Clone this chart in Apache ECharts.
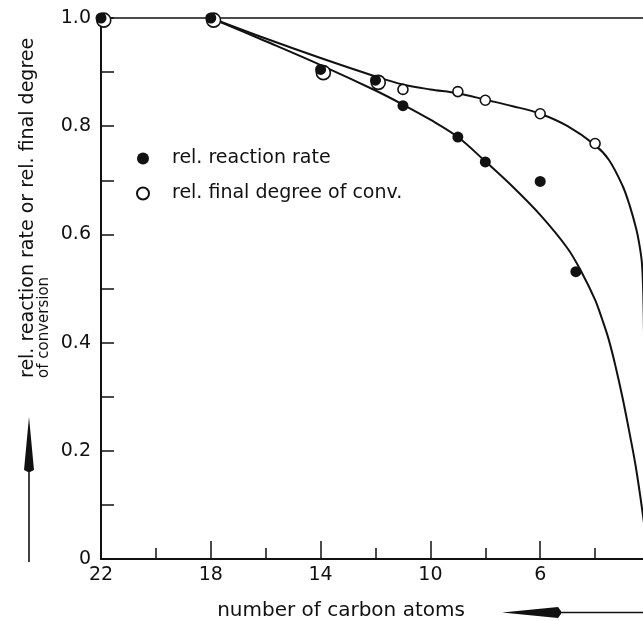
<!DOCTYPE html>
<html>
<head>
<meta charset="utf-8">
<script src="https://cdn.jsdelivr.net/npm/echarts@6/dist/echarts.min.js"></script>
<style>
html,body{margin:0;padding:0;background:#fff;}
#chart{width:643px;height:621px;}
</style>
</head>
<body>
<div id="chart"></div>
<script>
// Measured points: rel. reaction rate (filled circles)
const rateCarbon = [22, 18, 14, 12, 11, 9, 8, 6, 4.7];
const rateValues = [1.0, 1.0, 0.905, 0.885, 0.838, 0.78, 0.734, 0.698, 0.531];
// Measured points: rel. final degree of conversion (open circles)
const convCarbon = [21.9, 17.9, 13.9, 11.9, 11, 9, 8, 6, 4];
const convValues = [0.996, 0.996, 0.899, 0.881, 0.868, 0.864, 0.848, 0.823, 0.768];
// Fitted curves drawn through the points (the 22-18 stretch lies on the frame at 1.0)
const rateCurveX = [18, 16, 14, 12, 11, 10, 9, 8, 7, 6, 5, 4.5, 4, 3.75, 3.5, 3.25, 3, 2.75, 2.5, 2.2];
const rateCurveY = [1.0, 0.957, 0.913, 0.866, 0.84, 0.812, 0.78, 0.735, 0.688, 0.636, 0.574, 0.531, 0.479, 0.444, 0.405, 0.355, 0.298, 0.234, 0.165, 0.06];
const convCurveX = [18, 16, 14, 12, 11, 10, 9, 8, 7, 6, 5, 4, 3.5, 3, 2.75, 2.5, 2.4, 2.3, 2.25, 2.22];
const convCurveY = [1.0, 0.962, 0.926, 0.892, 0.877, 0.868, 0.861, 0.849, 0.837, 0.823, 0.80, 0.765, 0.738, 0.69, 0.655, 0.61, 0.585, 0.55, 0.50, 0.42];
// Axis ticks
const xMin = 2, xMax = 22, xStep = 4;
const yMin = 0, yMax = 1.0, yStep = 0.1;
const seriesNames = ['rel. reaction rate', 'rel. final degree of conv.'];
const xTitle = 'number of carbon atoms';
const yTitle1 = 'rel. reaction rate or rel. final degree';
const yTitle2 = 'of conversion';

const FONT = 'DejaVu Sans';
const INK = '#111';
const zip = (a, b) => a.map((v, i) => [v, b[i]]);
const overlapsRate = (val) => rateCarbon.some((c, i) => Math.abs(c - val[0]) < 0.3 && Math.abs(rateValues[i] - val[1]) < 0.015);

const chart = echarts.init(document.getElementById('chart'), null, {renderer: 'canvas'});
chart.setOption({
  animation: false,
  backgroundColor: '#fff',
  textStyle: {fontFamily: FONT, color: INK},
  grid: {left: 101, top: 18, width: 549, height: 541, containLabel: false, outerBoundsMode: 'none',
    show: true, borderColor: INK, borderWidth: 1.5, backgroundColor: 'transparent'},
  legend: {
    orient: 'vertical', left: 131, top: 144, itemGap: 16,
    itemWidth: 12, itemHeight: 12,
    data: seriesNames,
    textStyle: {fontFamily: FONT, fontSize: 19, color: INK, padding: [0, 0, 0, 18]}
  },
  xAxis: {
    type: 'value', inverse: true, min: xMin, max: xMax, interval: xStep,
    splitLine: {show: false},
    axisLine: {lineStyle: {color: INK, width: 2}},
    axisTick: {inside: true, length: 18, lineStyle: {color: INK, width: 1.5}},
    minorTick: {show: true, splitNumber: 2, length: 11, lineStyle: {color: INK, width: 1.5}},
    axisLabel: {color: INK, fontSize: 19, fontFamily: FONT, margin: 7,
      formatter: v => (v <= 3 ? '' : String(v))}
  },
  yAxis: {
    type: 'value', min: yMin, max: yMax, interval: yStep,
    splitLine: {show: false},
    axisLine: {lineStyle: {color: INK, width: 2}},
    axisTick: {inside: true, length: 13, lineStyle: {color: INK, width: 1.5}},
    axisLabel: {color: INK, fontSize: 19, fontFamily: FONT, margin: 10,
      formatter: v => {
        const k = Math.round(v * 10);
        if (k % 2 !== 0) return '';
        return k === 0 ? '0' : (k / 10).toFixed(1);
      }}
  },
  series: [
    {
      name: 'rateCurve', type: 'line', data: zip(rateCurveX, rateCurveY),
      showSymbol: false, smooth: 0.35, silent: true, z: 2,
      lineStyle: {color: INK, width: 2}
    },
    {
      name: 'convCurve', type: 'line', data: zip(convCurveX, convCurveY),
      showSymbol: false, smooth: 0.35, silent: true, z: 2,
      lineStyle: {color: INK, width: 2}
    },
    {
      name: seriesNames[1], type: 'scatter', data: zip(convCarbon, convValues), z: 3,
      symbol: 'circle',
      symbolSize: (val) => overlapsRate(val) ? 14 : 10,
      itemStyle: {color: '#fff', borderColor: INK, borderWidth: 1.6, opacity: 1}
    },
    {
      name: seriesNames[0], type: 'scatter', data: zip(rateCarbon, rateValues), z: 4,
      symbol: 'circle', symbolSize: 11,
      itemStyle: {color: INK, borderColor: INK, borderWidth: 0, opacity: 1}
    }
  ],
  graphic: [
    {type: 'text', x: 38, y: 378, rotation: Math.PI / 2,
      style: {text: yTitle1, font: '19px "DejaVu Sans"', fill: INK, align: 'left', verticalAlign: 'bottom', textAlign: 'left', textVerticalAlign: 'bottom'}},
    {type: 'text', x: 52, y: 378, rotation: Math.PI / 2,
      style: {text: yTitle2, font: '15px "DejaVu Sans"', fill: INK, align: 'left', verticalAlign: 'bottom', textAlign: 'left', textVerticalAlign: 'bottom'}},
    {type: 'text', x: 341, y: 611,
      style: {text: xTitle, font: '20px "DejaVu Sans"', fill: INK, align: 'center', verticalAlign: 'middle', textAlign: 'center', textVerticalAlign: 'middle'}},
    // vertical arrow
    {type: 'line', shape: {x1: 29, y1: 562, x2: 29, y2: 470}, style: {stroke: INK, lineWidth: 1.6}},
    {type: 'polygon', shape: {points: [[29, 417], [34, 470], [30, 472], [28, 472], [24, 470]]}, style: {fill: INK}},
    // horizontal arrow
    {type: 'line', shape: {x1: 560, y1: 612.5, x2: 643, y2: 612.5}, style: {stroke: INK, lineWidth: 1.6}},
    {type: 'polygon', shape: {points: [[502, 612.5], [558, 607], [561, 611], [561, 614], [558, 618]]}, style: {fill: INK}}
  ]
});
</script>
</body>
</html>
